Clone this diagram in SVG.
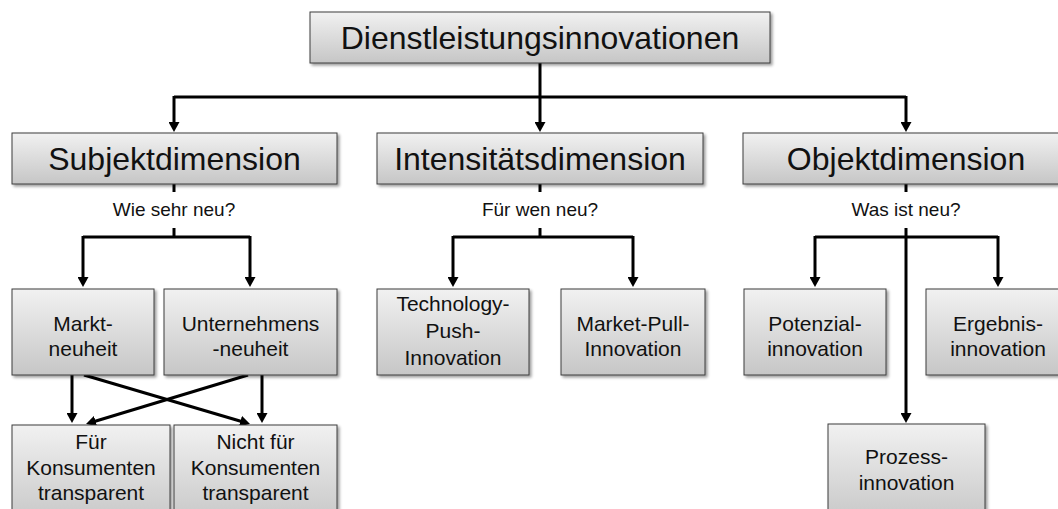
<svg xmlns="http://www.w3.org/2000/svg" width="1058" height="509" viewBox="0 0 1058 509">
  <style>
    .box { fill: url(#boxFill); stroke: #3c3c3c; stroke-width: 1; filter: url(#shadow); }
    .t { font-family: "Liberation Sans", Arial, sans-serif; fill: #111; text-anchor: middle; }
    .big { font-size: 32px; }
    .mid { font-size: 21px; }
    .q { font-size: 19px; }
    .wire { fill: none; stroke: #000; stroke-width: 3; }
    .arr { marker-end: url(#head); }
  </style>
  <defs>
    <linearGradient id="boxFill" x1="0" y1="0" x2="0" y2="1">
      <stop offset="0" stop-color="#f1f1f1"/>
      <stop offset="1" stop-color="#c6c6c6"/>
    </linearGradient>
    <filter id="shadow" x="-10%" y="-10%" width="120%" height="130%">
      <feGaussianBlur in="SourceAlpha" stdDeviation="1.5"/>
      <feOffset dx="2" dy="2" result="off"/>
      <feComponentTransfer><feFuncA type="linear" slope="0.4"/></feComponentTransfer>
      <feMerge><feMergeNode/><feMergeNode in="SourceGraphic"/></feMerge>
    </filter>
    <marker id="head" markerUnits="userSpaceOnUse" markerWidth="11" markerHeight="11" refX="3" refY="5.5" orient="auto">
      <path d="M0,0 L10,5.5 L0,11 z" fill="#000"/>
    </marker>
  </defs>

  <rect width="1058" height="509" fill="#fff"/>

  <!-- connectors -->
  <g id="connectors">
    <!-- root to the three dimensions -->
    <path class="wire arr" d="M540,63 V125"/>
    <path class="wire" d="M174,97 H906"/>
    <path class="wire arr" d="M174,96 V125"/>
    <path class="wire arr" d="M906,96 V125"/>

    <!-- Subjektdimension -->
    <path class="wire" d="M174,184 V192"/>
    <path class="wire" d="M174,228 V237"/>
    <path class="wire" d="M83,237 H250"/>
    <path class="wire arr" d="M83,236 V280"/>
    <path class="wire arr" d="M250,236 V280"/>

    <!-- Intensitätsdimension -->
    <path class="wire" d="M540,184 V192"/>
    <path class="wire" d="M540,228 V237"/>
    <path class="wire" d="M453,237 H633"/>
    <path class="wire arr" d="M453,236 V280"/>
    <path class="wire arr" d="M633,236 V280"/>

    <!-- Objektdimension -->
    <path class="wire" d="M906,184 V192"/>
    <path class="wire arr" d="M906,228 V416"/>
    <path class="wire" d="M815,237 H998"/>
    <path class="wire arr" d="M815,236 V280"/>
    <path class="wire arr" d="M998,236 V280"/>

    <!-- novelty to transparency -->
    <path class="wire arr" d="M72,375 V416"/>
    <path class="wire arr" d="M262,375 V416"/>
    <path class="wire arr" d="M84,375 L243.3,422"/>
    <path class="wire arr" d="M248,375 L92.7,422"/>
  </g>

  <g id="root">
    <rect class="box" x="310" y="12" width="460" height="51"/>
    <text class="t big" x="540" y="49">Dienstleistungsinnovationen</text>
  </g>

  <g id="subjekt">
    <rect class="box" x="12" y="133" width="325" height="51"/>
    <text class="t big" x="174.5" y="170">Subjektdimension</text>
    <text class="t q" x="174" y="216">Wie sehr neu?</text>
  </g>
  <g id="intensitaet">
    <rect class="box" x="377" y="133" width="326" height="51"/>
    <text class="t big" x="540" y="170">Intensitätsdimension</text>
    <text class="t q" x="540" y="216">Für wen neu?</text>
  </g>
  <g id="objekt">
    <rect class="box" x="743" y="133" width="326" height="51"/>
    <text class="t big" x="906" y="170">Objektdimension</text>
    <text class="t q" x="906" y="216">Was ist neu?</text>
  </g>

  <g id="markt">
    <rect class="box" x="12" y="289" width="142" height="86"/>
    <text class="t mid" x="83" y="331">Markt-</text>
    <text class="t mid" x="83" y="356">neuheit</text>
  </g>
  <g id="unternehmen">
    <rect class="box" x="164" y="289" width="173" height="86"/>
    <text class="t mid" x="250.5" y="331">Unternehmens</text>
    <text class="t mid" x="250.5" y="356">-neuheit</text>
  </g>
  <g id="technology">
    <rect class="box" x="377" y="289" width="152" height="86"/>
    <text class="t mid" x="453" y="311">Technology-</text>
    <text class="t mid" x="453" y="338">Push-</text>
    <text class="t mid" x="453" y="365">Innovation</text>
  </g>
  <g id="marketpull">
    <rect class="box" x="561" y="289" width="144" height="86"/>
    <text class="t mid" x="633" y="331">Market-Pull-</text>
    <text class="t mid" x="633" y="356">Innovation</text>
  </g>
  <g id="potenzial">
    <rect class="box" x="744" y="289" width="142" height="86"/>
    <text class="t mid" x="815" y="331">Potenzial-</text>
    <text class="t mid" x="815" y="356">innovation</text>
  </g>
  <g id="ergebnis">
    <rect class="box" x="926" y="289" width="144" height="86"/>
    <text class="t mid" x="998" y="331">Ergebnis-</text>
    <text class="t mid" x="998" y="356">innovation</text>
  </g>

  <g id="transparent">
    <rect class="box" x="12" y="425" width="158" height="100"/>
    <text class="t mid" x="91" y="449">Für</text>
    <text class="t mid" x="91" y="475">Konsumenten</text>
    <text class="t mid" x="91" y="500">transparent</text>
  </g>
  <g id="nicht-transparent">
    <rect class="box" x="174" y="425" width="163" height="100"/>
    <text class="t mid" x="255.5" y="449">Nicht für</text>
    <text class="t mid" x="255.5" y="475">Konsumenten</text>
    <text class="t mid" x="255.5" y="500">transparent</text>
  </g>
  <g id="prozess">
    <rect class="box" x="828" y="424" width="157" height="100"/>
    <text class="t mid" x="906.5" y="464">Prozess-</text>
    <text class="t mid" x="906.5" y="490">innovation</text>
  </g>
</svg>
